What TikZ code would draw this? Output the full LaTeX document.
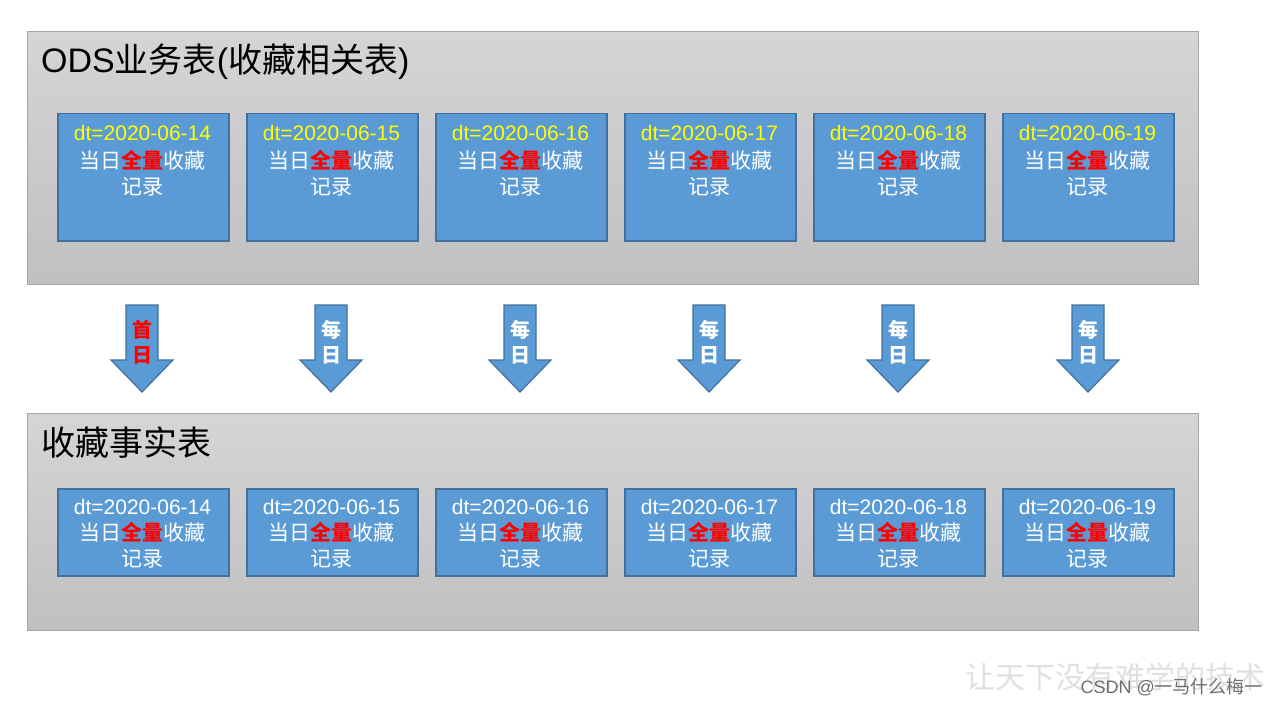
\documentclass[tikz,border=0pt]{standalone}
\usepackage{fontspec}
\setmainfont{Liberation Sans}
\newfontfamily\cjk{Noto Sans CJK SC}
\definecolor{boxfill}{HTML}{5B9BD5}
\definecolor{boxline}{HTML}{41719C}
\definecolor{panelTop}{HTML}{D5D5D5}
\definecolor{panelBot}{HTML}{C0C0C0}
\definecolor{panelLine}{HTML}{A6A6A6}
\definecolor{dtyellow}{HTML}{FFFF00}
\definecolor{wmark}{HTML}{E0E0E0}
\definecolor{csdn}{HTML}{6E6E6E}
\tikzset{
  panel/.style={draw=panelLine, line width=1pt, top color=panelTop, bottom color=panelBot,
    anchor=north west, inner sep=0pt, minimum width=1171pt},
  recbox/.style={draw=boxline, line width=1.5pt, fill=boxfill, anchor=north west,
    inner sep=0pt, minimum width=171pt},
  boxtxt/.style={anchor=base, inner sep=0pt, font=\fontsize{21}{26}\selectfont, text=white},
  title/.style={anchor=west, inner sep=0pt, font=\fontsize{34}{40}\selectfont, text=black},
  arrowshape/.style={draw=boxline, line width=1.2pt, fill=boxfill, line join=miter},
  arrtxt/.style={inner sep=0pt, font=\cjk\bfseries\fontsize{20}{24}\selectfont}
}
\newcommand{\hl}{{\cjk\bfseries\color{red}全量}}
\begin{document}
\begin{tikzpicture}[x=1pt,y=-1pt]
\useasboundingbox (0,0) rectangle (1277,706);
\fill[white] (0,0) rectangle (1277,706);

% panels
\node[panel, minimum height=253pt] (ods) at (27,31) {};
\node[panel, minimum height=217pt] (fact) at (27,413) {};
\node[title] (odsT) at (41,62) {ODS{\cjk 业务表}({\cjk 收藏相关表})};
\node[title] (factT) at (41,443) {\cjk 收藏事实表};

% boxes
\foreach \i/\x/\d in {1/57/14,2/246/15,3/435/16,4/624/17,5/813/18,6/1002/19}{
  \node[recbox, minimum height=127pt] (o\i) at (\x,113) {};
  \node[boxtxt, text=dtyellow] (o\i a) at (\x+85.5,140.5) {dt=2020-06-\d};
  \node[boxtxt] (o\i b) at (\x+85.5,168) {{\cjk 当日}\hl{\cjk 收藏}};
  \node[boxtxt] (o\i c) at (\x+85.5,194) {\cjk 记录};
  \node[recbox, minimum height=87pt] (f\i) at (\x,488) {};
  \node[boxtxt] (f\i a) at (\x+85.5,514) {dt=2020-06-\d};
  \node[boxtxt] (f\i b) at (\x+85.5,540) {{\cjk 当日}\hl{\cjk 收藏}};
  \node[boxtxt] (f\i c) at (\x+85.5,566) {\cjk 记录};
}

% arrows
\foreach \i/\c/\ta/\tb/\col in {1/142/首/日/red,2/331/每/日/white,3/520/每/日/white,4/709/每/日/white,5/898/每/日/white,6/1088/每/日/white}{
  \path[arrowshape] (\c-16,305) -- (\c+16,305) -- (\c+16,360) -- (\c+31,360)
     -- (\c,392) -- (\c-31,360) -- (\c-16,360) -- cycle;
  \node[arrtxt, text=\col] (a\i a) at (\c,330) {\ta};
  \node[arrtxt, text=\col] (a\i b) at (\c,355) {\tb};
}

% watermark
\node[inner sep=0pt, text=wmark, font=\cjk\fontsize{30}{34}\selectfont] (wm) at (1115,677) {让天下没有难学的技术};
\node[inner sep=0pt, anchor=east, text=csdn, font=\fontsize{18}{22}\selectfont] (cs) at (1263,687) {CSDN @{\cjk 一马什么梅一}};
\end{tikzpicture}
\end{document}
